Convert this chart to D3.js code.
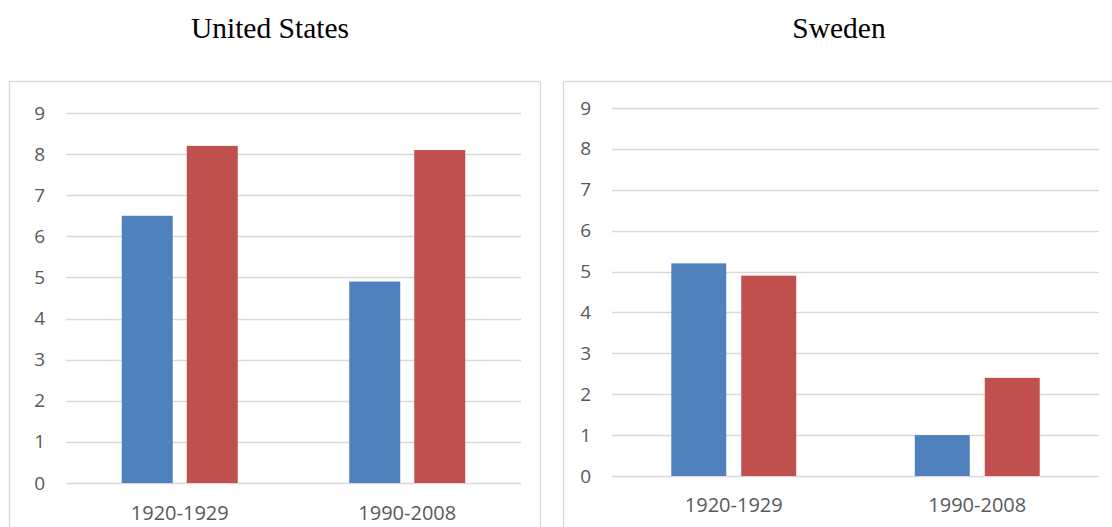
<!DOCTYPE html>
<html>
<head>
<meta charset="utf-8">
<script src="https://cdn.jsdelivr.net/npm/d3@7"></script>
<style>
  html, body { margin: 0; padding: 0; background: #fff; }
  svg { display: block; }
</style>
</head>
<body>
<svg id="chart" width="1112" height="527"></svg>
<script>
// Periods on the category axis
const categories = ["1920-1929", "1990-2008"];
const seriesNames = ["first", "second"];
const seriesColors = ["#4f81bd", "#c0504d"];

// Values per country: [first series, second series] for each period
const usFirst = [6.5, 4.9];
const usSecond = [8.2, 8.1];
const swedenFirst = [5.2, 1.0];
const swedenSecond = [4.9, 2.4];

const yTicks = [0, 1, 2, 3, 4, 5, 6, 7, 8, 9];
const titles = ["United States", "Sweden"];

const svg = d3.select("#chart");

function drawPanel(opts) {
  const g = svg.append("g");

  // chart frame
  g.append("rect")
    .attr("x", opts.frame[0] + 0.5).attr("y", opts.frame[1] + 0.5)
    .attr("width", opts.frame[2]).attr("height", opts.frame[3])
    .attr("fill", "#fff").attr("stroke", "#d9d9d9").attr("stroke-width", 1.3);

  // title
  svg.append("text")
    .attr("x", opts.titleX).attr("y", 38)
    .attr("text-anchor", "middle")
    .attr("font-family", "'Liberation Serif', 'Times New Roman', serif")
    .attr("font-size", 29.5)
    .attr("fill", "#000")
    .text(opts.title);

  const y = d3.scaleLinear().domain([0, 9]).range([opts.y0, opts.y9]);
  const x0 = d3.scaleBand().domain(categories).range([opts.left, opts.right])
    .paddingInner(opts.groupPad).paddingOuter(opts.groupPad / 2);
  const x1 = d3.scaleBand().domain(seriesNames).range([0, x0.bandwidth()])
    .paddingInner(opts.barPad);

  // gridlines
  g.append("g").selectAll("line").data(yTicks).join("line")
    .attr("x1", opts.left).attr("x2", opts.right)
    .attr("y1", d => Math.round(y(d)) + 0.5).attr("y2", d => Math.round(y(d)) + 0.5)
    .attr("stroke", "#d9d9d9").attr("stroke-width", 1.3);

  // y tick labels
  const yAxis = d3.axisLeft(y).tickValues(yTicks).tickSize(0).tickPadding(0);
  const ya = g.append("g").attr("transform", `translate(${opts.tickX},0)`).call(yAxis);
  ya.select(".domain").remove();
  ya.selectAll("text")
    .attr("font-family", "'Open Sans', sans-serif").attr("font-size", 19)
    .attr("fill", "#595959").attr("text-anchor", "end");

  // bars
  const rows = categories.map((c, i) => ({ cat: c, vals: [opts.first[i], opts.second[i]] }));
  const groups = g.append("g").selectAll("g").data(rows).join("g")
    .attr("transform", d => `translate(${x0(d.cat)},0)`);
  groups.selectAll("rect").data(d => d.vals.map((v, k) => ({ key: seriesNames[k], v, k })))
    .join("rect")
    .attr("x", d => x1(d.key))
    .attr("width", x1.bandwidth())
    .attr("y", d => y(d.v))
    .attr("height", d => y(0) - y(d.v))
    .attr("fill", d => seriesColors[d.k]);

  // category labels
  const xAxis = d3.axisBottom(x0).tickSize(0).tickPadding(0);
  const xa = g.append("g").attr("transform", `translate(0,${opts.catY})`).call(xAxis);
  xa.select(".domain").remove();
  xa.selectAll("text")
    .attr("font-family", "'Open Sans', sans-serif").attr("font-size", 20)
    .attr("fill", "#595959").attr("dy", "0");
}

drawPanel({
  title: titles[0], titleX: 270,
  frame: [9, 81, 531, 460],
  left: 66, right: 521, y0: 483, y9: 113,
  groupPad: 0.49, barPad: 14 / 65,
  tickX: 45, catY: 520,
  first: usFirst, second: usSecond
});

drawPanel({
  title: titles[1], titleX: 839,
  frame: [563, 81, 560, 460],
  left: 612, right: 1099, y0: 476, y9: 108,
  groupPad: 0.487, barPad: 15 / 70,
  tickX: 591, catY: 512,
  first: swedenFirst, second: swedenSecond
});
</script>
</body>
</html>
